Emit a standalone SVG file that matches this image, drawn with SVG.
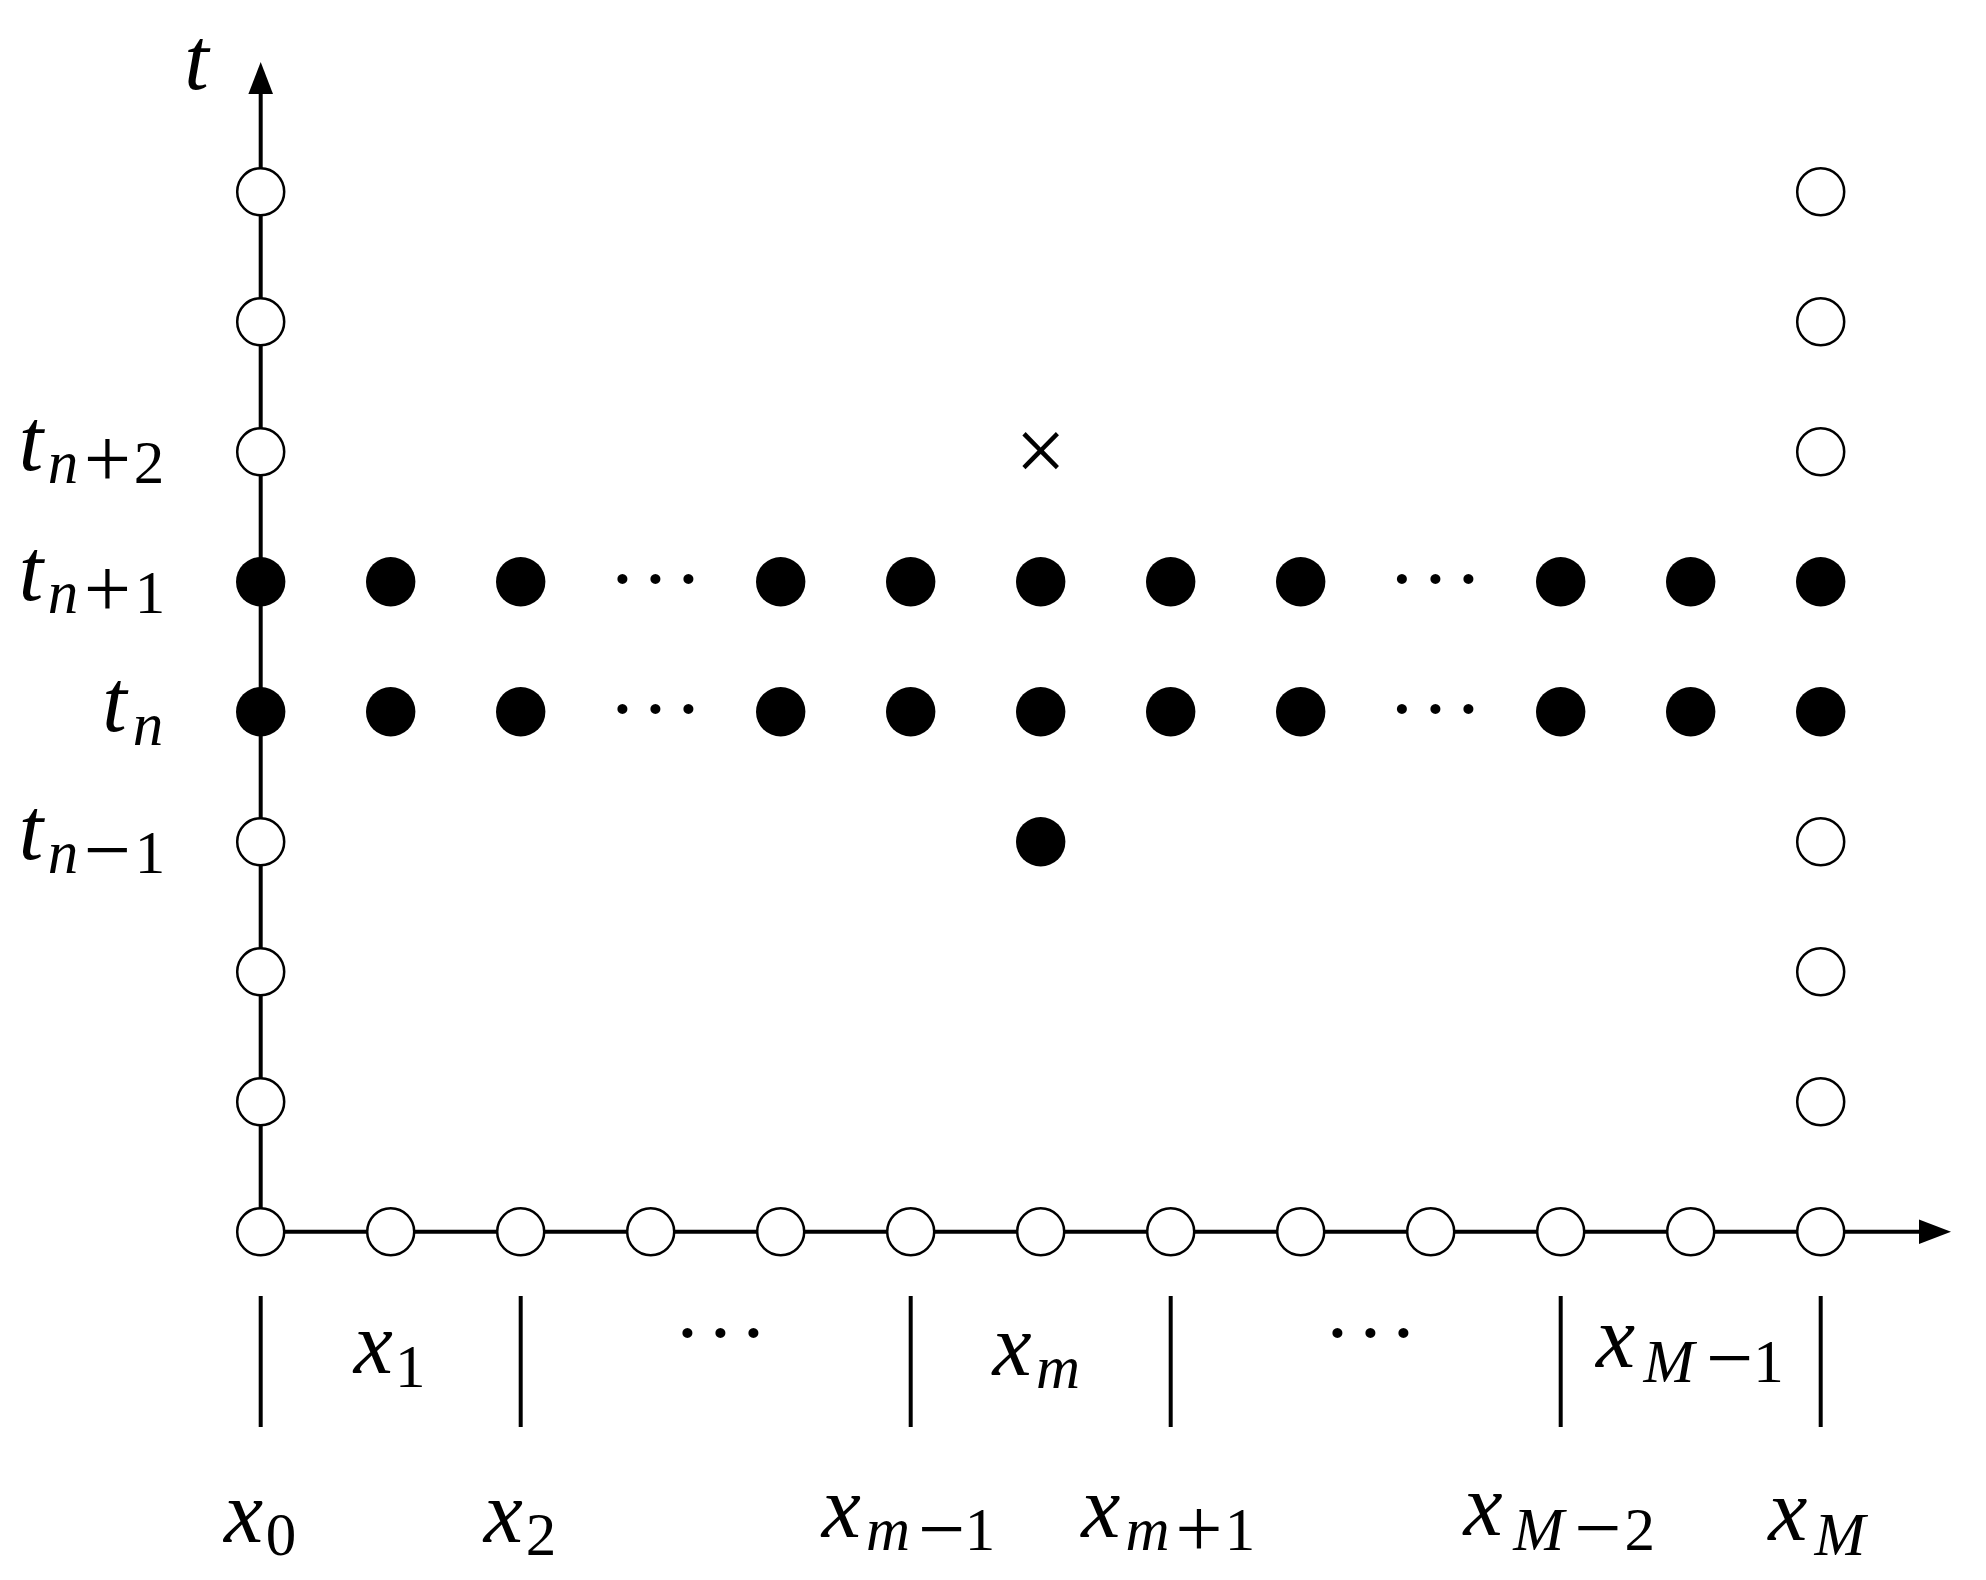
<svg xmlns="http://www.w3.org/2000/svg" width="1986" height="1580" viewBox="0 0 1986 1580">
<style>
.ax{stroke:#000;stroke-width:4;fill:none}
.tick{stroke:#000;stroke-width:4}
.open{fill:#fff;stroke:#000;stroke-width:2.5}
.fill{fill:#000}
text{font-family:"Liberation Serif","Times New Roman","DejaVu Serif",serif;fill:#000;text-anchor:middle}
.mi{font-style:italic;font-size:88px}
.si{font-style:italic;font-size:61px}
.sd{font-size:61px}
.op{font-size:84px}
.tm{font-size:90px}
.dots{font-size:85px}
</style>
<defs>
<marker id="arr" markerUnits="userSpaceOnUse" markerWidth="34" markerHeight="26" refX="12" refY="12.3" orient="auto">
<path d="M0,0 L32,12.3 L0,24.6 z" fill="#000"/>
</marker>
</defs>
<rect width="1986" height="1580" fill="#fff"/>
<g id="connectors">
<line class="ax" x1="260.7" y1="1231.7" x2="260.7" y2="82" marker-end="url(#arr)"/>
<line class="ax" x1="260.7" y1="1231.7" x2="1931" y2="1231.7" marker-end="url(#arr)"/>
<line class="tick" x1="260.7" y1="1296" x2="260.7" y2="1427"/>
<line class="tick" x1="520.7" y1="1296" x2="520.7" y2="1427"/>
<line class="tick" x1="910.7" y1="1296" x2="910.7" y2="1427"/>
<line class="tick" x1="1170.7" y1="1296" x2="1170.7" y2="1427"/>
<line class="tick" x1="1560.7" y1="1296" x2="1560.7" y2="1427"/>
<line class="tick" x1="1820.7" y1="1296" x2="1820.7" y2="1427"/>
</g>
<g id="nodes-left">
<circle class="open" cx="260.7" cy="191.7" r="23.5"/>
<circle class="open" cx="260.7" cy="321.7" r="23.5"/>
<circle class="open" cx="260.7" cy="451.7" r="23.5"/>
<circle class="fill" cx="260.7" cy="581.7" r="24.7"/>
<circle class="fill" cx="260.7" cy="711.7" r="24.7"/>
<circle class="open" cx="260.7" cy="841.7" r="23.5"/>
<circle class="open" cx="260.7" cy="971.7" r="23.5"/>
<circle class="open" cx="260.7" cy="1101.7" r="23.5"/>
</g>
<g id="nodes-right">
<circle class="open" cx="1820.7" cy="191.7" r="23.5"/>
<circle class="open" cx="1820.7" cy="321.7" r="23.5"/>
<circle class="open" cx="1820.7" cy="451.7" r="23.5"/>
<circle class="fill" cx="1820.7" cy="581.7" r="24.7"/>
<circle class="fill" cx="1820.7" cy="711.7" r="24.7"/>
<circle class="open" cx="1820.7" cy="841.7" r="23.5"/>
<circle class="open" cx="1820.7" cy="971.7" r="23.5"/>
<circle class="open" cx="1820.7" cy="1101.7" r="23.5"/>
</g>
<g id="nodes-bottom">
<circle class="open" cx="260.7" cy="1231.7" r="23.5"/>
<circle class="open" cx="390.7" cy="1231.7" r="23.5"/>
<circle class="open" cx="520.7" cy="1231.7" r="23.5"/>
<circle class="open" cx="650.7" cy="1231.7" r="23.5"/>
<circle class="open" cx="780.7" cy="1231.7" r="23.5"/>
<circle class="open" cx="910.7" cy="1231.7" r="23.5"/>
<circle class="open" cx="1040.7" cy="1231.7" r="23.5"/>
<circle class="open" cx="1170.7" cy="1231.7" r="23.5"/>
<circle class="open" cx="1300.7" cy="1231.7" r="23.5"/>
<circle class="open" cx="1430.7" cy="1231.7" r="23.5"/>
<circle class="open" cx="1560.7" cy="1231.7" r="23.5"/>
<circle class="open" cx="1690.7" cy="1231.7" r="23.5"/>
<circle class="open" cx="1820.7" cy="1231.7" r="23.5"/>
</g>
<g id="nodes-row-n1">
<circle class="fill" cx="390.7" cy="581.7" r="24.7"/>
<circle class="fill" cx="520.7" cy="581.7" r="24.7"/>
<circle class="fill" cx="780.7" cy="581.7" r="24.7"/>
<circle class="fill" cx="910.7" cy="581.7" r="24.7"/>
<circle class="fill" cx="1040.7" cy="581.7" r="24.7"/>
<circle class="fill" cx="1170.7" cy="581.7" r="24.7"/>
<circle class="fill" cx="1300.7" cy="581.7" r="24.7"/>
<circle class="fill" cx="1560.7" cy="581.7" r="24.7"/>
<circle class="fill" cx="1690.7" cy="581.7" r="24.7"/>
<text class="dots" x="622.3 655.3 688.3" y="607">···</text>
<text class="dots" x="1401.8 1435.3 1468.3" y="607">···</text>
</g>
<g id="nodes-row-n">
<circle class="fill" cx="390.7" cy="711.7" r="24.7"/>
<circle class="fill" cx="520.7" cy="711.7" r="24.7"/>
<circle class="fill" cx="780.7" cy="711.7" r="24.7"/>
<circle class="fill" cx="910.7" cy="711.7" r="24.7"/>
<circle class="fill" cx="1040.7" cy="711.7" r="24.7"/>
<circle class="fill" cx="1170.7" cy="711.7" r="24.7"/>
<circle class="fill" cx="1300.7" cy="711.7" r="24.7"/>
<circle class="fill" cx="1560.7" cy="711.7" r="24.7"/>
<circle class="fill" cx="1690.7" cy="711.7" r="24.7"/>
<text class="dots" x="622.3 655.3 688.3" y="737">···</text>
<text class="dots" x="1401.8 1435.3 1468.3" y="737">···</text>
</g>
<g id="node-n-1">
<circle class="fill" cx="1040.7" cy="841.7" r="24.7"/>
</g>
<g id="node-target">
<text class="tm" x="1040.7" y="481">×</text>
</g>
<g id="labels-t">
<text class="mi" x="196.5" y="89">t</text>
<text class="mi" x="31" y="470">t</text><text class="si" x="63" y="483">n</text><text class="op" x="107.5" y="487">+</text><text class="sd" x="149" y="483">2</text>
<text class="mi" x="31" y="600">t</text><text class="si" x="63" y="613">n</text><text class="op" x="107.5" y="617">+</text><text class="sd" x="150" y="613">1</text>
<text class="mi" x="114.5" y="731">t</text><text class="si" x="148" y="745">n</text>
<text class="mi" x="31" y="859">t</text><text class="si" x="63" y="873">n</text><text class="op" x="107.5" y="877.7">−</text><text class="sd" x="150" y="873">1</text>
</g>
<g id="labels-x">
<text class="mi" x="373.3" y="1372.7">x</text><text class="sd" x="410.3" y="1386.7">1</text>
<text class="dots" x="687.3 720.3 753.3" y="1361">···</text>
<text class="mi" x="1012" y="1375">x</text><text class="si" x="1058" y="1388">m</text>
<text class="dots" x="1337.3 1370.3 1403.3" y="1361">···</text>
<text class="mi" x="1615.5" y="1366.7">x</text><text class="si" x="1669" y="1381.7">M</text><text class="op" x="1729.8" y="1386">−</text><text class="sd" x="1768.6" y="1381.7">1</text>
<text class="mi" x="243.5" y="1541.7">x</text><text class="sd" x="281" y="1555">0</text>
<text class="mi" x="503.3" y="1541.7">x</text><text class="sd" x="541" y="1555">2</text>
<text class="mi" x="841.3" y="1536.7">x</text><text class="si" x="888" y="1550">m</text><text class="op" x="941.7" y="1557">−</text><text class="sd" x="980" y="1550">1</text>
<text class="mi" x="1100.8" y="1536.7">x</text><text class="si" x="1147.5" y="1550">m</text><text class="op" x="1199" y="1557">+</text><text class="sd" x="1240" y="1550">1</text>
<text class="mi" x="1483" y="1535">x</text><text class="si" x="1538.6" y="1550">M</text><text class="op" x="1598" y="1556">−</text><text class="sd" x="1639.8" y="1550">2</text>
<text class="mi" x="1787.7" y="1540">x</text><text class="si" x="1840" y="1555">M</text>
</g>
</svg>
